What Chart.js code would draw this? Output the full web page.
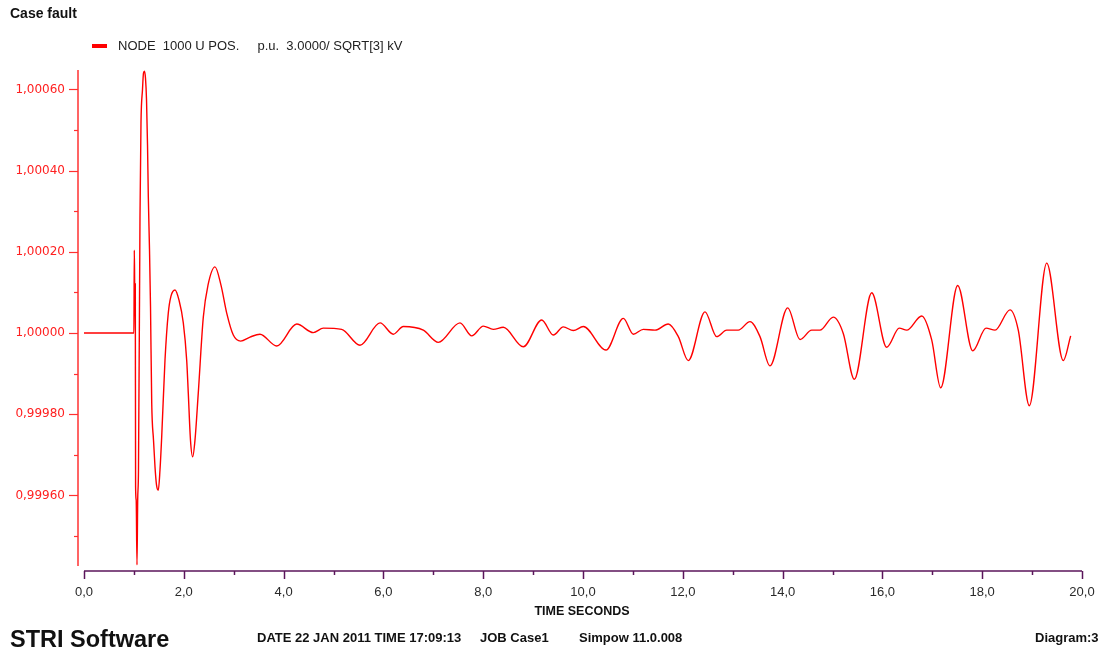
<!DOCTYPE html>
<html>
<head>
<meta charset="utf-8">
<script src="https://cdn.jsdelivr.net/npm/chart.js@4/dist/chart.umd.min.js"></script>
<style>
  html, body { margin: 0; padding: 0; background: #fff; }
  #wrap { position: relative; width: 1104px; height: 652px; overflow: hidden; }
  canvas { position: absolute; left: 0; top: 0; }
  .txt { position: absolute; font-family: "Liberation Sans", Arial, sans-serif; color: #111; white-space: pre; line-height: 1; }
  .b { font-weight: bold; }
</style>
</head>
<body>
<div id="wrap">
  <canvas id="c" width="1104" height="652"></canvas>
  <div class="txt b" style="left:10px; top:6px; font-size:14px;">Case fault</div>
  <div style="position:absolute; left:92px; top:44px; width:15px; height:4px; background:#ff0000;"></div>
  <div class="txt" id="legendText" style="left:118px; top:39px; font-size:13px; color:#222;"></div>
  <div class="txt b" style="left:532px; top:605px; width:100px; text-align:center; font-size:12.5px;">TIME SECONDS</div>
  <div class="txt b" style="left:10px; top:628px; font-size:23.5px;">STRI Software</div>
  <div class="txt b" style="left:257px; top:631px; font-size:13px;">DATE 22 JAN 2011 TIME 17:09:13</div>
  <div class="txt b" style="left:480px; top:631px; font-size:13px;">JOB Case1</div>
  <div class="txt b" style="left:579px; top:631px; font-size:13px;">Simpow 11.0.008</div>
  <div class="txt b" style="left:1035px; top:631px; font-size:13px;">Diagram:3</div>
</div>
<script>
// Time axis (seconds) and positive-sequence voltage at NODE 1000 (p.u.)
const timeSeconds = [
  0.000, 1.000, 1.008, 1.018, 1.028, 1.034, 1.046, 1.062, 1.076, 1.092,
  1.122, 1.142, 1.172, 1.192, 1.212, 1.232, 1.253, 1.273, 1.289, 1.313,
  1.333, 1.357, 1.393, 1.423, 1.453, 1.489, 1.523, 1.557, 1.623, 1.689,
  1.743, 1.824, 1.904, 1.990, 2.058, 2.090, 2.134, 2.178, 2.224, 2.290,
  2.391, 2.485, 2.625, 2.745, 2.860, 2.992, 3.140, 3.327, 3.527, 3.862,
  4.263, 4.595, 4.796, 5.164, 5.531, 5.932, 6.198, 6.399, 6.800, 7.100,
  7.535, 7.770, 8.002, 8.202, 8.403, 8.804, 9.172, 9.405, 9.605, 9.806,
  10.006, 10.461, 10.808, 11.008, 11.208, 11.443, 11.709, 11.910, 12.110, 12.445,
  12.679, 12.880, 13.112, 13.347, 13.547, 13.747, 14.102, 14.349, 14.583, 14.749,
  15.016, 15.216, 15.437, 15.786, 16.086, 16.339, 16.487, 16.788, 16.988, 17.168,
  17.509, 17.810, 18.076, 18.257, 18.557, 18.723, 18.944, 19.293, 19.625, 19.773
];
const nodeVoltage = [
  1.000000, 1.000000, 1.000204, 1.000106, 1.000121, 0.999621, 0.999589, 0.999429, 0.999589, 0.999663,
  1.000286, 1.000517, 1.000599, 1.000640, 1.000645, 1.000628, 1.000574, 1.000463, 1.000335, 1.000204,
  1.000064, 0.999828, 0.999736, 0.999670, 0.999626, 0.999613, 0.999663, 0.999744, 0.999933, 1.000049,
  1.000091, 1.000106, 1.000081, 1.000025, 0.999933, 0.999852, 0.999736, 0.999695, 0.999736, 0.999852,
  1.000039, 1.000118, 1.000163, 1.000118, 1.000049, 0.999995, 0.999980, 0.999990, 0.999997, 0.999968,
  1.000022, 1.000001, 1.000012, 1.000009, 0.999970, 1.000025, 0.999997, 1.000016, 1.000007, 0.999977,
  1.000025, 0.999993, 1.000017, 1.000009, 1.000014, 0.999966, 1.000032, 0.999995, 1.000015, 1.000006,
  1.000016, 0.999958, 1.000036, 0.999997, 1.000009, 1.000007, 1.000022, 0.999991, 0.999932, 1.000052,
  0.999991, 1.000007, 1.000007, 1.000028, 0.999991, 0.999919, 1.000062, 0.999984, 1.000007, 1.000007,
  1.000039, 0.999999, 0.999886, 1.000099, 0.999965, 1.000012, 1.000007, 1.000042, 0.999983, 0.999865,
  1.000117, 0.999956, 1.000012, 1.000007, 1.000057, 1.000007, 0.999821, 1.000172, 0.999932, 0.999993
];

// Tick values
const xMajorTicks = [0, 2, 4, 6, 8, 10, 12, 14, 16, 18, 20];
const xMinorTicks = [1, 3, 5, 7, 9, 11, 13, 15, 17, 19];
const yMajorTicks = [0.9996, 0.9998, 1.0000, 1.0002, 1.0004, 1.0006];
const yMinorTicks = [0.9995, 0.9997, 0.9999, 1.0001, 1.0003, 1.0005];

const seriesLabel = 'NODE  1000 U POS.     p.u.  3.0000/ SQRT[3] kV';
document.getElementById('legendText').textContent = seriesLabel;

const AXIS_RED = '#ff3030';
const AXIS_PURPLE = '#5a145a';

// Axis lines and tick marks, drawn with the chart's own scales
const axisPainter = {
  id: 'axisPainter',
  afterDraw(chart) {
    const ctx = chart.ctx;
    const xs = chart.scales.x, ys = chart.scales.y;
    const area = chart.chartArea;
    ctx.save();
    // vertical (value) axis, red, detached to the left
    const ax = 78;
    ctx.strokeStyle = AXIS_RED;
    ctx.lineWidth = 1.5;
    ctx.beginPath();
    ctx.moveTo(ax, area.top);
    ctx.lineTo(ax, area.bottom - 5);
    ctx.stroke();
    ctx.lineWidth = 1.2;
    yMajorTicks.forEach(v => {
      const y = Math.round(ys.getPixelForValue(v)) + 0.5;
      ctx.beginPath(); ctx.moveTo(ax - 9, y); ctx.lineTo(ax, y); ctx.stroke();
    });
    yMinorTicks.forEach(v => {
      const y = Math.round(ys.getPixelForValue(v)) + 0.5;
      ctx.beginPath(); ctx.moveTo(ax - 4, y); ctx.lineTo(ax, y); ctx.stroke();
    });
    // horizontal (time) axis, purple
    const ay = area.bottom;
    ctx.strokeStyle = AXIS_PURPLE;
    ctx.lineWidth = 1.5;
    ctx.beginPath();
    ctx.moveTo(xs.getPixelForValue(0), ay);
    ctx.lineTo(xs.getPixelForValue(20), ay);
    ctx.stroke();
    xMajorTicks.forEach(v => {
      const x = Math.round(xs.getPixelForValue(v)) + 0.5;
      ctx.beginPath(); ctx.moveTo(x, ay); ctx.lineTo(x, ay + 8); ctx.stroke();
    });
    xMinorTicks.forEach(v => {
      const x = Math.round(xs.getPixelForValue(v)) + 0.5;
      ctx.beginPath(); ctx.moveTo(x, ay); ctx.lineTo(x, ay + 4); ctx.stroke();
    });
    ctx.restore();
  }
};

const points = timeSeconds.map((t, i) => ({ x: t, y: nodeVoltage[i] }));

new Chart(document.getElementById('c'), {
  type: 'line',
  data: {
    datasets: [{
      label: seriesLabel,
      data: points,
      borderColor: '#ff0000',
      borderWidth: 1.4,
      pointRadius: 0,
      cubicInterpolationMode: 'monotone',
      fill: false
    }]
  },
  options: {
    responsive: false,
    animation: false,
    devicePixelRatio: 1,
    layout: { padding: { top: 70, right: 22, left: 0, bottom: 0 } },
    plugins: { legend: { display: false }, tooltip: { enabled: false }, title: { display: false } },
    scales: {
      x: {
        type: 'linear',
        min: 0, max: 20,
        grid: { display: false },
        border: { display: false },
        afterBuildTicks: s => { s.ticks = xMajorTicks.map(v => ({ value: v })); },
        afterFit: s => { s.height = 81; },
        ticks: {
          padding: 6,
          maxRotation: 0,
          autoSkip: false,
          color: '#2a2a2a',
          font: { family: '"Liberation Sans", Arial, sans-serif', size: 13 },
          callback: v => Number(v).toFixed(1).replace('.', ',')
        }
      },
      y: {
        type: 'linear',
        min: 0.9994138, max: 1.0006478,
        grid: { display: false },
        border: { display: false },
        afterBuildTicks: s => { s.ticks = yMajorTicks.map(v => ({ value: v })); },
        afterFit: s => { s.width = 84; },
        ticks: {
          padding: 11,
          autoSkip: false,
          color: '#ff2020',
          font: { family: '"DejaVu Sans", Verdana, sans-serif', size: 12 },
          callback: v => Number(v).toFixed(5).replace('.', ',')
        }
      }
    }
  },
  plugins: [axisPainter]
});
</script>
</body>
</html>
